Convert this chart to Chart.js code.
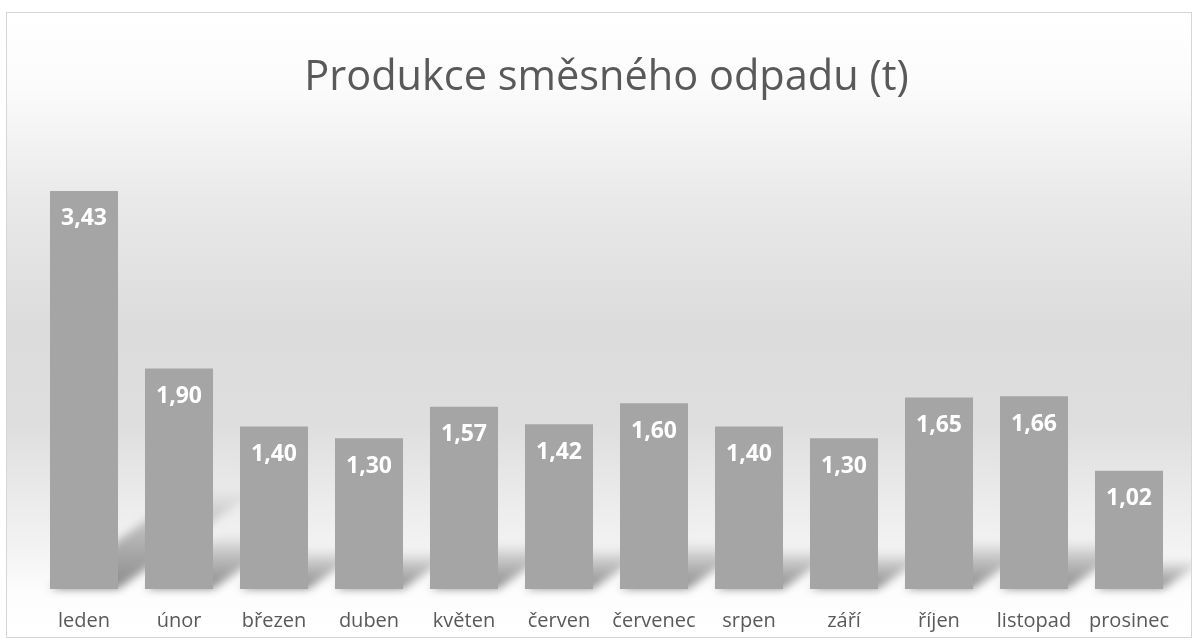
<!DOCTYPE html>
<html>
<head>
<meta charset="utf-8">
<script src="https://cdn.jsdelivr.net/npm/chart.js@4"></script>
<style>
  body { margin: 0; background: #fff; }
  #box {
    position: absolute; left: 6px; top: 12px;
    width: 1186px; height: 626px;
    box-sizing: border-box; border: 1px solid #d6d6d6;
  }
  #myChart { display: block; }
</style>
</head>
<body>
<div id="box"><canvas id="myChart" width="1184" height="624"></canvas></div>
<script>
// data
const months = ["leden", "únor", "březen", "duben", "květen", "červen", "červenec", "srpen", "září", "říjen", "listopad", "prosinec"];
const waste = [3.43, 1.90, 1.40, 1.30, 1.57, 1.42, 1.60, 1.40, 1.30, 1.65, 1.66, 1.02];
const yMin = 0;
const yMax = 4;

const FONT = "'Open Sans', 'Noto Sans', sans-serif";

// gradient background like the Excel style
const bgPlugin = {
	id: "bg",
	beforeDraw(chart) {
		const { ctx, width, height } = chart;
		const g = ctx.createLinearGradient(0, 0, 0, height);
		g.addColorStop(0, "#ffffff");
		g.addColorStop(0.12, "#fbfbfb");
		g.addColorStop(0.3, "#e9e9e9");
		g.addColorStop(0.5, "#dcdcdc");
		g.addColorStop(0.66, "#dedede");
		g.addColorStop(0.76, "#e9e9e9");
		g.addColorStop(0.86, "#f3f3f3");
		g.addColorStop(0.93, "#fdfdfd");
		g.addColorStop(1, "#ffffff");
		ctx.save();
		ctx.fillStyle = g;
		ctx.fillRect(0, 0, width, height);
		ctx.restore();
	},
};

// perspective shadows behind the bars
const shadowPlugin = {
	id: "barShadow",
	beforeDatasetsDraw(chart) {
		const { ctx } = chart;
		const meta = chart.getDatasetMeta(0);
		ctx.save();
		ctx.filter = "blur(4px)";
		meta.data.forEach((bar) => {
			const h = bar.base - bar.y;
			const dy = h * 0.25;
			const dx = h * 0.35;
			const l = bar.x - bar.width / 2;
			const r = bar.x + bar.width / 2;
			const g = ctx.createLinearGradient(0, bar.base, 0, bar.base - dy);
			g.addColorStop(0, "rgba(0,0,0,0.45)");
			g.addColorStop(0.6, "rgba(0,0,0,0.22)");
			g.addColorStop(1, "rgba(0,0,0,0)");
			ctx.fillStyle = g;
			ctx.beginPath();
			ctx.moveTo(l, bar.base);
			ctx.lineTo(r, bar.base);
			ctx.lineTo(r + dx, bar.base - dy);
			ctx.lineTo(l + dx, bar.base - dy);
			ctx.closePath();
			ctx.fill();
		});
		ctx.restore();
	},
};

// value labels inside the bar top
const labelPlugin = {
	id: "valueLabels",
	afterDatasetsDraw(chart) {
		const { ctx } = chart;
		const meta = chart.getDatasetMeta(0);
		ctx.save();
		ctx.fillStyle = "#ffffff";
		ctx.font = "bold 23px " + FONT;
		ctx.textAlign = "center";
		ctx.textBaseline = "middle";
		meta.data.forEach((bar, i) => {
			const txt = waste[i].toFixed(2).replace(".", ",");
			ctx.fillText(txt, bar.x, bar.y + 28);
		});
		ctx.restore();
	},
};

const ctx = document.getElementById("myChart");
const myChart = new Chart(ctx, {
	type: "bar",
	data: {
		labels: months,
		datasets: [
			{
				label: "Produkce",
				data: waste,
				backgroundColor: "#a5a5a5",
				categoryPercentage: 1,
				barPercentage: 0.716,
			},
		],
	},
	options: {
		responsive: false,
		animation: false,
		layout: {
			padding: { left: 29.5, right: 14.5, top: 0, bottom: -16 },
		},
		plugins: {
			legend: { display: false },
			tooltip: { enabled: false },
			title: {
				display: true,
				text: "Produkce směsného odpadu (t)",
				color: "#595959",
				font: { family: FONT, size: 41.5, weight: "normal", lineHeight: 1.2 },
				padding: { top: 40, bottom: 22 },
			},
		},
		scales: {
			x: {
				grid: { display: false, drawTicks: false },
				border: { display: false },
				ticks: {
					color: "#595959",
					font: { family: FONT, size: 20 },
					padding: 20,
					maxRotation: 0,
					autoSkip: false,
				},
			},
			y: {
				display: false,
				min: yMin,
				max: yMax,
			},
		},
	},
	plugins: [bgPlugin, shadowPlugin, labelPlugin],
});
</script>
</body>
</html>
